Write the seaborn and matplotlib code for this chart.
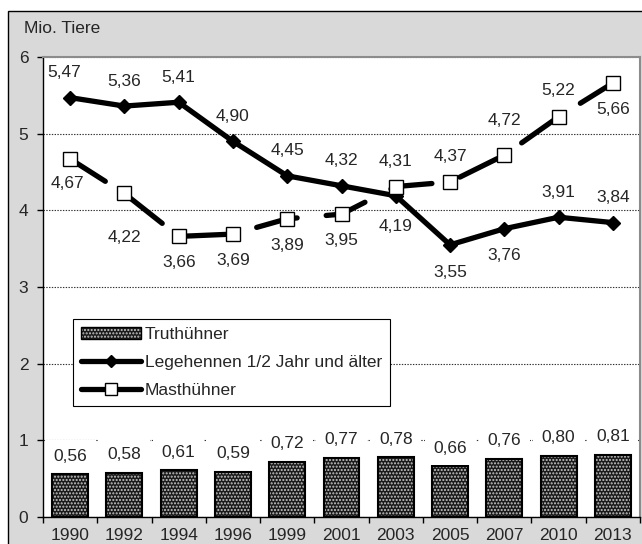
import matplotlib
matplotlib.use("Agg")
import matplotlib.pyplot as plt
import matplotlib.colors as mcolors
from matplotlib.patches import Rectangle, Patch
from matplotlib.lines import Line2D
from matplotlib.ticker import FixedLocator
import seaborn as sns
import pandas as pd

# ---------------- data ----------------
years = ["1990", "1992", "1994", "1996", "1999", "2001", "2003", "2005", "2007", "2010", "2013"]
truthuehner = [0.56, 0.58, 0.61, 0.59, 0.72, 0.77, 0.78, 0.66, 0.76, 0.80, 0.81]
legehennen = [5.47, 5.36, 5.41, 4.90, 4.45, 4.32, 4.19, 3.55, 3.76, 3.91, 3.84]
masthuehner = [4.67, 4.22, 3.66, 3.69, 3.89, 3.95, 4.31, 4.37, 4.72, 5.22, 5.66]
y_ticks = [0, 1, 2, 3, 4, 5, 6]
series_names = ["Truthühner", "Legehennen 1/2 Jahr und älter", "Masthühner"]
y_title = "Mio. Tiere"

# label offsets (points) for line labels – layout only
lege_dy = [18, 18, 18, 18, 18, 18, -22, -20, -19, 18, 18]
mast_dy = [-18, -32, -19, -19, -19, -19, 18, 18, 25, 19, -19]

df = pd.DataFrame({"Jahr": years, "Truthühner": truthuehner,
                   "Legehennen": legehennen, "Masthühner": masthuehner})

sns.set_theme(style="white")
plt.rcParams["font.family"] = ["Liberation Sans", "DejaVu Sans"]
plt.rcParams["lines.scale_dashes"] = False
FS = 12.5
HATCH_C = "#c8c8c8"

fig = plt.figure(figsize=(6.42, 5.44), dpi=100)
fig.patch.set_facecolor("white")
# grey chart area with black border
fig.add_artist(Rectangle((8 / 642, -0.05), 1.0, (544 - 11) / 544 + 0.05,
                         transform=fig.transFigure, facecolor="#d9d9d9",
                         edgecolor="black", linewidth=1.0, zorder=0))

ax = fig.add_axes([43 / 642, 27 / 544, 597 / 642, (517 - 57) / 544])
ax.set_facecolor("white")
ax.set_zorder(1)

# bars
sns.barplot(data=df, x="Jahr", y="Truthühner", color="#1a1a1a", width=0.66,
            ax=ax, zorder=2)
for p in ax.patches:
    p.set_facecolor("#1a1a1a")
    p.set_edgecolor("black")
    p.set_linewidth(1.5)
    p.set_hatch(".....")
    p._hatch_color = mcolors.to_rgba(HATCH_C)

# Legehennen line
n0 = len(ax.lines)
sns.pointplot(data=df, x="Jahr", y="Legehennen", color="black", markers="D",
              linestyles="-", errorbar=None, ax=ax)
for ln in ax.lines[n0:]:
    ln.set_linewidth(3.8)
    ln.set_markersize(7.5)
    ln.set_markeredgewidth(1)
    ln.set_solid_joinstyle("round")
    ln.set_solid_capstyle("round")
    ln.set_zorder(4)

# Masthühner line (dashed)
n1 = len(ax.lines)
sns.pointplot(data=df, x="Jahr", y="Masthühner", color="black", markers="s",
              linestyles="-", errorbar=None, ax=ax)
for ln in ax.lines[n1:]:
    ln.set_linewidth(3.8)
    ln.set_dashes((30.0, 21.0))
    ln.set_dash_capstyle("round")
    ln.set_markersize(9.5)
    ln.set_markerfacecolor("white")
    ln.set_markeredgecolor("black")
    ln.set_markeredgewidth(1.0)
    ln.set_zorder(5)

# labels
def fmt(v):
    return f"{v:.2f}".replace(".", ",")

for i, v in enumerate(truthuehner):
    ax.annotate(fmt(v), xy=(i, v), xytext=(0, 13), textcoords="offset points",
                ha="center", va="center", fontsize=FS, zorder=6,
                bbox=dict(boxstyle="square,pad=0.5", fc="white", ec="none"))
for i, v in enumerate(legehennen):
    dx = -4 if i == 0 else 0
    ax.annotate(fmt(v), xy=(i, v), xytext=(dx, lege_dy[i]), textcoords="offset points",
                ha="center", va="center", fontsize=FS, zorder=6)
for i, v in enumerate(masthuehner):
    dx = -2 if i == 0 else 0
    ax.annotate(fmt(v), xy=(i, v), xytext=(dx, mast_dy[i]), textcoords="offset points",
                ha="center", va="center", fontsize=FS, zorder=6)

# axes styling
ax.set_ylim(0, 6)
ax.set_xlim(-0.5, len(years) - 0.5)
ax.set_yticks(y_ticks)
ax.set_yticklabels([str(t) for t in y_ticks], fontsize=FS)
ax.set_xticks(range(len(years)))
ax.set_xticklabels(years, fontsize=FS)
ax.xaxis.set_minor_locator(FixedLocator([i - 0.5 for i in range(len(years) + 1)]))
ax.tick_params(axis="x", which="major", length=0, pad=8)
ax.tick_params(axis="x", which="minor", length=4, width=1, color="black", direction="out",
               bottom=True)
ax.tick_params(axis="y", which="major", length=4.5, width=1, color="black",
               direction="out", pad=6, left=True)
ax.set_xlabel("")
ax.set_ylabel("")
ax.yaxis.grid(True, linestyle=(0, (1, 1)), color="#333333", linewidth=0.8, zorder=1)
ax.set_axisbelow(True)
for s in ["left", "bottom"]:
    ax.spines[s].set_color("black")
    ax.spines[s].set_linewidth(1.0)
for s in ["top", "right"]:
    ax.spines[s].set_visible(True)
    ax.spines[s].set_color("#8c8c8c")
    ax.spines[s].set_linewidth(1.5)

fig.text(24 / 642, 1 - 33 / 544, y_title, fontsize=FS, ha="left", va="baseline")

# legend
h_bar = Patch(facecolor="#1a1a1a", edgecolor="black", hatch=".....", linewidth=1)
h_bar._hatch_color = mcolors.to_rgba(HATCH_C)
h_lege = Line2D([], [], color="black", linewidth=3.8, marker="D", markersize=6,
                solid_capstyle="round")
h_mast = Line2D([], [], color="black", linewidth=3.8, marker="s", markersize=8,
                markerfacecolor="white", markeredgecolor="black", markeredgewidth=1,
                solid_capstyle="round")
leg = ax.legend([h_bar, h_lege, h_mast], series_names, loc="lower left",
                bbox_to_anchor=(0.05, 0.241), fontsize=FS, frameon=True,
                fancybox=False, framealpha=1, edgecolor="black", handlelength=3.5,
                handletextpad=0.2, labelspacing=0.75, borderpad=0.45,
                borderaxespad=0)
leg.get_frame().set_linewidth(0.8)
leg.set_zorder(7)

fig.savefig("out.png", dpi=100, facecolor=fig.get_facecolor())
